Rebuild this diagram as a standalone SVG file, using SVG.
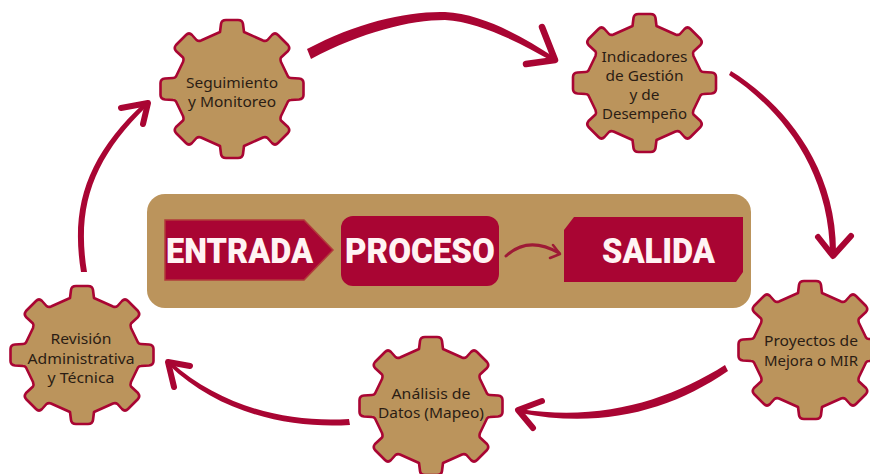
<svg xmlns="http://www.w3.org/2000/svg" width="870" height="474" viewBox="0 0 870 474">
<style>
.g{fill:#BB945C;stroke:#A90533;stroke-width:2.6;stroke-linejoin:round}
.t{font-family:"Noto Sans","Open Sans",sans-serif;font-size:14.5px;fill:#2B1D14;text-anchor:middle}
.b{font-family:Roboto,"Liberation Sans",sans-serif;font-weight:900;font-size:35px;fill:#FFF3F3;text-anchor:middle}
.a{fill:none;stroke:#A90533;stroke-linecap:round;stroke-linejoin:round}
.f{fill:#A90533}
.r{fill:#A90533}
</style>
<defs>
<path id="gear" d="M-12,-57L-11,-65Q-10.5,-69-6,-69H6Q10.5,-69,11,-65L12,-57L31,-48.5Q33.5,-47.5,35.5,-49L40,-54Q43,-57,46,-54L56,-44Q58.500,-41,56,-38L49,-31.5Q48,-30,49,-27L56,-12.5Q57,-11,59,-11L67,-10.5Q71.5,-10,71.5,-6V6Q71.5,10,67,10.5L59,11Q57,11,56,12.5L49,27Q48,30,49,31.5L56,38Q58.500,41,56,44L46,54Q43,57,40,54L35.5,49Q33.5,47.5,31,48.5L12,57L11,65Q10.5,69,6,69H-6Q-10.5,69,-11,65L-12,57L-31,48.5Q-33.5,47.5,-35.5,49L-40,54Q-43,57,-46,54L-56,44Q-58.500,41,-56,38L-49,31.5Q-48,30,-49,27L-56,12.5Q-57,11,-59,11L-67,10.5Q-71.5,10,-71.5,6V-6Q-71.5,-10,-67,-10.5L-59,-11Q-57,-11,-56,-12.5L-49,-27Q-48,-30,-49,-31.5L-56,-38Q-58.500,-41,-56,-44L-46,-54Q-43,-57,-40,-54L-35.5,-49Q-33.5,-47.5,-31,-48.5Z"/>
</defs>
<rect width="870" height="474" fill="#fff"/>
<g id="panel"><rect x="147" y="194" width="604" height="114" rx="18" fill="#BB945C"/></g>
<g id="entrada"><path d="M165,220H304L333,250L304,280H165Z" fill="#A90533" stroke="#B23A3A" stroke-width="1.5"/><text class="b" x="239.500" y="263" textLength="147" lengthAdjust="spacingAndGlyphs">ENTRADA</text></g>
<g id="proceso"><rect x="341" y="216" width="158" height="70" rx="12" class="r"/><text class="b" x="420" y="263" textLength="150" lengthAdjust="spacingAndGlyphs">PROCESO</text></g>
<g id="salida"><path d="M574,217H743V272L736,282H564V230Z" class="r"/><text class="b" x="658.500" y="263" textLength="113" lengthAdjust="spacingAndGlyphs">SALIDA</text></g>
<g id="connectors">
<path class="f" d="M307,49C358,22 408,11 445,12C482,14 520,35 554,57L552,61C518,42 480,22 445,20C410,20 362,32 311,59Z"/>
<path class="a" stroke-width="6.500" d="M542,27L555,60L526,64"/>
<path class="f" d="M731,71C775,98 838,160 836,256L830,256C830,165 775,105 729,75Z"/>
<path class="a" stroke-width="6" d="M818,237L833,256L851,236"/>
<path class="f" d="M725,365C670,400 600,422 520,409L520,413C600,429 670,411 728,371Z"/>
<path class="a" stroke-width="6" d="M542,401L518,410L533,428"/>
<path class="f" d="M349,419C290,423 222,408 171,362L169,365C218,413 290,429 350,425Z"/>
<path class="a" stroke-width="6" d="M190,366L168,362L174,387"/>
<path class="f" d="M81,272C70,205 88,155 144,103L147,106C94,158 76,205 87,272Z"/>
<path class="a" stroke-width="6" d="M121,108L148,103L143,124"/>
<path class="a" stroke-width="3" style="stroke:#9E1A36" d="M506,256C520,243 538,241 559,253"/>
<path class="a" stroke-width="2.500" style="stroke:#9E1A36" d="M553,245L560,254L550,258"/>
</g>
<g id="seguimiento"><use href="#gear" x="232" y="89" class="g"/><text class="t" x="232" y="88" textLength="92" lengthAdjust="spacingAndGlyphs">Seguimiento</text><text class="t" x="232" y="107" textLength="88" lengthAdjust="spacingAndGlyphs">y Monitoreo</text></g>
<g id="indicadores"><use href="#gear" x="644.500" y="83" class="g"/><text class="t" x="644.500" y="62" textLength="86" lengthAdjust="spacingAndGlyphs">Indicadores</text><text class="t" x="644.500" y="81" textLength="78" lengthAdjust="spacingAndGlyphs">de Gestión</text><text class="t" x="644.500" y="100" textLength="30" lengthAdjust="spacingAndGlyphs">y de</text><text class="t" x="644.500" y="119" textLength="85" lengthAdjust="spacingAndGlyphs">Desempeño</text></g>
<g id="proyectos"><use href="#gear" x="810" y="350" class="g"/><text class="t" x="811" y="346" textLength="94" lengthAdjust="spacingAndGlyphs">Proyectos de</text><text class="t" x="811" y="366" textLength="94" lengthAdjust="spacingAndGlyphs">Mejora o MIR</text></g>
<g id="analisis"><use href="#gear" x="431" y="406" class="g"/><text class="t" x="431" y="399" textLength="79" lengthAdjust="spacingAndGlyphs">Análisis de</text><text class="t" x="431" y="418" textLength="106" lengthAdjust="spacingAndGlyphs">Datos (Mapeo)</text></g>
<g id="revision"><use href="#gear" x="82" y="355" class="g"/><text class="t" x="81" y="344" textLength="61" lengthAdjust="spacingAndGlyphs">Revisión</text><text class="t" x="81" y="364" textLength="107" lengthAdjust="spacingAndGlyphs">Administrativa</text><text class="t" x="81" y="383" textLength="67" lengthAdjust="spacingAndGlyphs">y Técnica</text></g>
</svg>
